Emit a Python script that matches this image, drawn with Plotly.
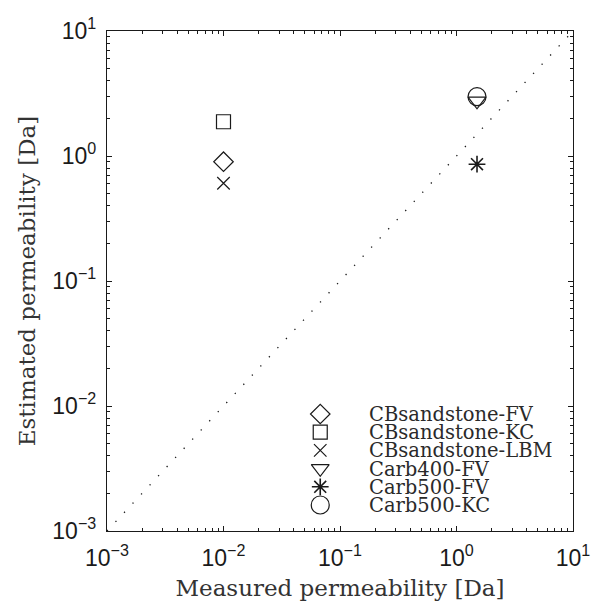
import plotly.graph_objects as go

# ---------------- data ----------------
series_names = ["CBsandstone-FV", "CBsandstone-KC", "CBsandstone-LBM",
                "Carb400-FV", "Carb500-FV", "Carb500-KC"]
measured_perm = [0.01, 0.01, 0.01, 1.5, 1.5, 1.5]
estimated_perm = [0.90, 1.88, 0.605, 2.75, 0.86, 2.98]
identity_line = [1e-3, 1e1]
tick_values = [1e-3, 1e-2, 1e-1, 1e0, 1e1]
tick_labels = ["10<sup>\u22123</sup>", "10<sup>\u22122</sup>", "10<sup>\u22121</sup>",
               "10<sup>0</sup>", "10<sup>1</sup>"]

# ---------------- styles ----------------
marker_style = {
    "CBsandstone-FV": dict(symbol="diamond-open", size=15, lw=1.2),
    "CBsandstone-KC": dict(symbol="square-open", size=14, lw=1.2),
    "CBsandstone-LBM": dict(symbol="x-thin-open", size=12.5, lw=1.2),
    "Carb400-FV": dict(symbol="triangle-down-open", size=15.5, lw=1.2),
    "Carb500-FV": dict(symbol="asterisk-open", size=14, lw=1.6),
    "Carb500-KC": dict(symbol="circle-open", size=18, lw=1.2),
}
minor_vals = [k * d for d in tick_values[:-1] for k in range(2, 10)]

INK = "#1a1a1a"
fig = go.Figure()

# reference y = x line
fig.add_trace(go.Scatter(x=identity_line, y=identity_line, mode="lines",
                         line=dict(color=INK, width=1.3, dash="1.3px,11.2px"),
                         showlegend=False, hoverinfo="skip"))

for name, xm, ye in zip(series_names, measured_perm, estimated_perm):
    st = marker_style[name]
    fig.add_trace(go.Scatter(x=[xm], y=[ye], mode="markers", name=name,
                             marker=dict(symbol=st["symbol"], size=st["size"], color=INK,
                                         line=dict(color=INK, width=st["lw"])),
                             showlegend=False))

# ---------------- hand-made legend (tight rows, no box) ----------------
LEG_MARK_X = 0.4576
LEG_TEXT_X = 0.561
LEG_Y0 = 0.234
LEG_STEP = 0.0364
for i, name in enumerate(series_names):
    st = marker_style[name]
    yy = LEG_Y0 - i * LEG_STEP
    fig.add_trace(go.Scatter(x=[LEG_MARK_X], y=[yy], xaxis="x2", yaxis="y2",
                             mode="markers", showlegend=False, hoverinfo="skip",
                             marker=dict(symbol=st["symbol"], size=st["size"], color=INK,
                                         line=dict(color=INK, width=st["lw"]))))
    fig.add_annotation(x=LEG_TEXT_X, y=yy, xref="paper", yref="paper",
                       text=name, showarrow=False, xanchor="left", yanchor="middle",
                       height=16, valign="middle", borderpad=0,
                       font=dict(family="DejaVu Serif", size=19.5, color="#2a2a2a"))

axis_common = dict(
    type="log", range=[-3, 1], tickmode="array", tickvals=tick_values, ticktext=tick_labels,
    ticks="inside", ticklen=5, tickwidth=1, tickcolor=INK,
    showline=True, linecolor=INK, linewidth=1.3, mirror="ticks",
    showgrid=False, zeroline=False,
    tickfont=dict(family="Liberation Sans", size=23, color=INK),
    minor=dict(tickmode="array", tickvals=minor_vals, ticks="inside", ticklen=3,
               tickwidth=1, tickcolor=INK, showgrid=False),
)

fig.update_layout(
    width=602, height=609,
    margin=dict(l=107, r=23, t=31, b=78),
    paper_bgcolor="white", plot_bgcolor="white",
    showlegend=False,
    xaxis=dict(**axis_common, ticklabelstandoff=6,
               title=dict(text="Measured permeability [Da]", standoff=10,
                          font=dict(family="DejaVu Serif", size=23, color="#333"))),
    yaxis=dict(**axis_common, ticklabelstandoff=5,
               title=dict(text="Estimated permeability [Da]", standoff=10,
                          font=dict(family="DejaVu Serif", size=23, color="#333"))),
    xaxis2=dict(range=[0, 1], overlaying="x", visible=False, fixedrange=True),
    yaxis2=dict(range=[0, 1], overlaying="y", visible=False, fixedrange=True),
)

fig.write_html("out.html")
